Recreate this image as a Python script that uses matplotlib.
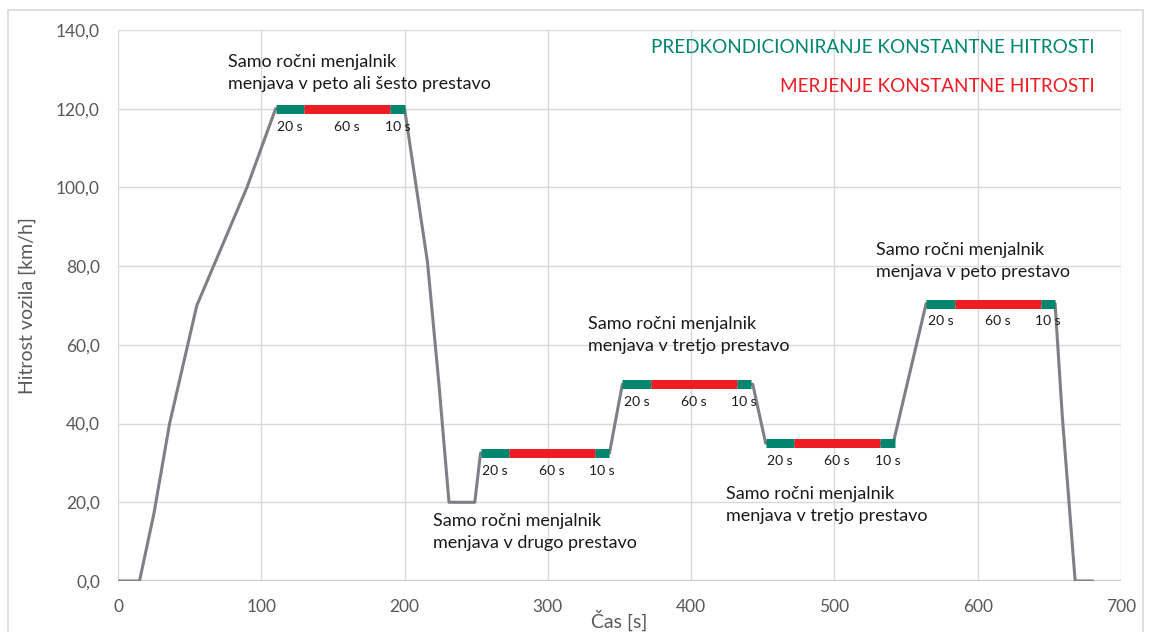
import matplotlib.pyplot as plt
from matplotlib.patches import Rectangle
from matplotlib.ticker import FuncFormatter

# speed profile (time [s], speed [km/h])
time_s = [0, 15, 25, 36, 55, 90, 110, 200, 216, 224, 231, 249, 253, 343, 352, 443,
          452, 541, 564, 654, 659, 668, 680]
speed_kmh = [0, 0, 17, 40, 70, 100, 120, 120, 81, 50, 20, 20, 32.5, 32.5, 50, 50,
             35, 35, 70.5, 70.5, 42, 0, 0]

# constant speed blocks: start time, speed, phase durations
block_start = [110, 253, 352, 452, 564]
block_speed = [120, 32.5, 50, 35, 70.5]
phase_len = [20, 60, 10]
phase_label = ["20 s", "60 s", "10 s"]

# annotations: x, y, text
notes_x = [77, 220, 328, 424, 529]
notes_y = [129, 12.4, 62.6, 19.4, 81.4]
notes_txt = [
    "Samo ročni menjalnik\nmenjava v peto ali šesto prestavo",
    "Samo ročni menjalnik\nmenjava v drugo prestavo",
    "Samo ročni menjalnik\nmenjava v tretjo prestavo",
    "Samo ročni menjalnik\nmenjava v tretjo prestavo",
    "Samo ročni menjalnik\nmenjava v peto prestavo",
]

GREEN = "#00856f"
RED = "#ee1d24"
GRAY_TXT = "#595959"

plt.rcParams["font.family"] = ["Lato", "DejaVu Sans"]

fig = plt.figure(figsize=(11.51, 6.32), dpi=100)
ax = fig.add_axes([118 / 1151, 1 - 581 / 632, 1003 / 1151, 551 / 632])

# outer frame
fig.patches.append(Rectangle((8 / 1151, -0.01), 1135 / 1151, 1 - 10 / 632 + 0.01,
                             transform=fig.transFigure, fill=False,
                             edgecolor="#d9d9d9", linewidth=1.2))

ax.plot(time_s, speed_kmh, color="#7f7f86", linewidth=2.2, zorder=3,
        solid_joinstyle="round")

phase_col = [GREEN, RED, GREEN]
for t0, v in zip(block_start, block_speed):
    t = t0
    for length, col, lab in zip(phase_len, phase_col, phase_label):
        ax.plot([t, t + length], [v, v], color=col, linewidth=6.5,
                solid_capstyle="butt", zorder=4)
        ax.text(t + length / 2, v - 3.0, lab, ha="center", va="top",
                fontsize=10, color="#1a1a1a", zorder=5)
        t += length

for x, y, s in zip(notes_x, notes_y, notes_txt):
    ax.text(x, y, s, ha="left", va="center", fontsize=13, color="#1a1a1a",
            linespacing=1.45, zorder=5)

ax.text(0.974, 0.969, "PREDKONDICIONIRANJE KONSTANTNE HITROSTI", transform=ax.transAxes,
        ha="right", va="center", fontsize=13.6, color=GREEN)
ax.text(0.974, 0.897, "MERJENJE KONSTANTNE HITROSTI", transform=ax.transAxes,
        ha="right", va="center", fontsize=13.6, color=RED)

ax.set_xlim(0, 700)
ax.set_ylim(0, 140)
ax.set_xticks(range(0, 701, 100))
ax.set_yticks(range(0, 141, 20))
ax.yaxis.set_major_formatter(FuncFormatter(lambda v, p: f"{v:.1f}".replace(".", ",")))
ax.tick_params(axis="y", length=0, labelsize=12.5, labelcolor=GRAY_TXT, pad=13)
ax.tick_params(axis="x", length=0, labelsize=12.5, labelcolor=GRAY_TXT, pad=13)
ax.grid(True, color="#d9d9d9", linewidth=1)
ax.set_axisbelow(True)
for sp in ax.spines.values():
    sp.set_visible(False)
ax.axhline(0, color="#bfbfbf", linewidth=1.2, zorder=2)

ax.set_ylabel("Hitrost vozila [km/h]", fontsize=14, color=GRAY_TXT, labelpad=14)
ax.set_xlabel("Čas [s]", fontsize=14, color=GRAY_TXT, labelpad=-4)

fig.savefig("out.png", dpi=100)
